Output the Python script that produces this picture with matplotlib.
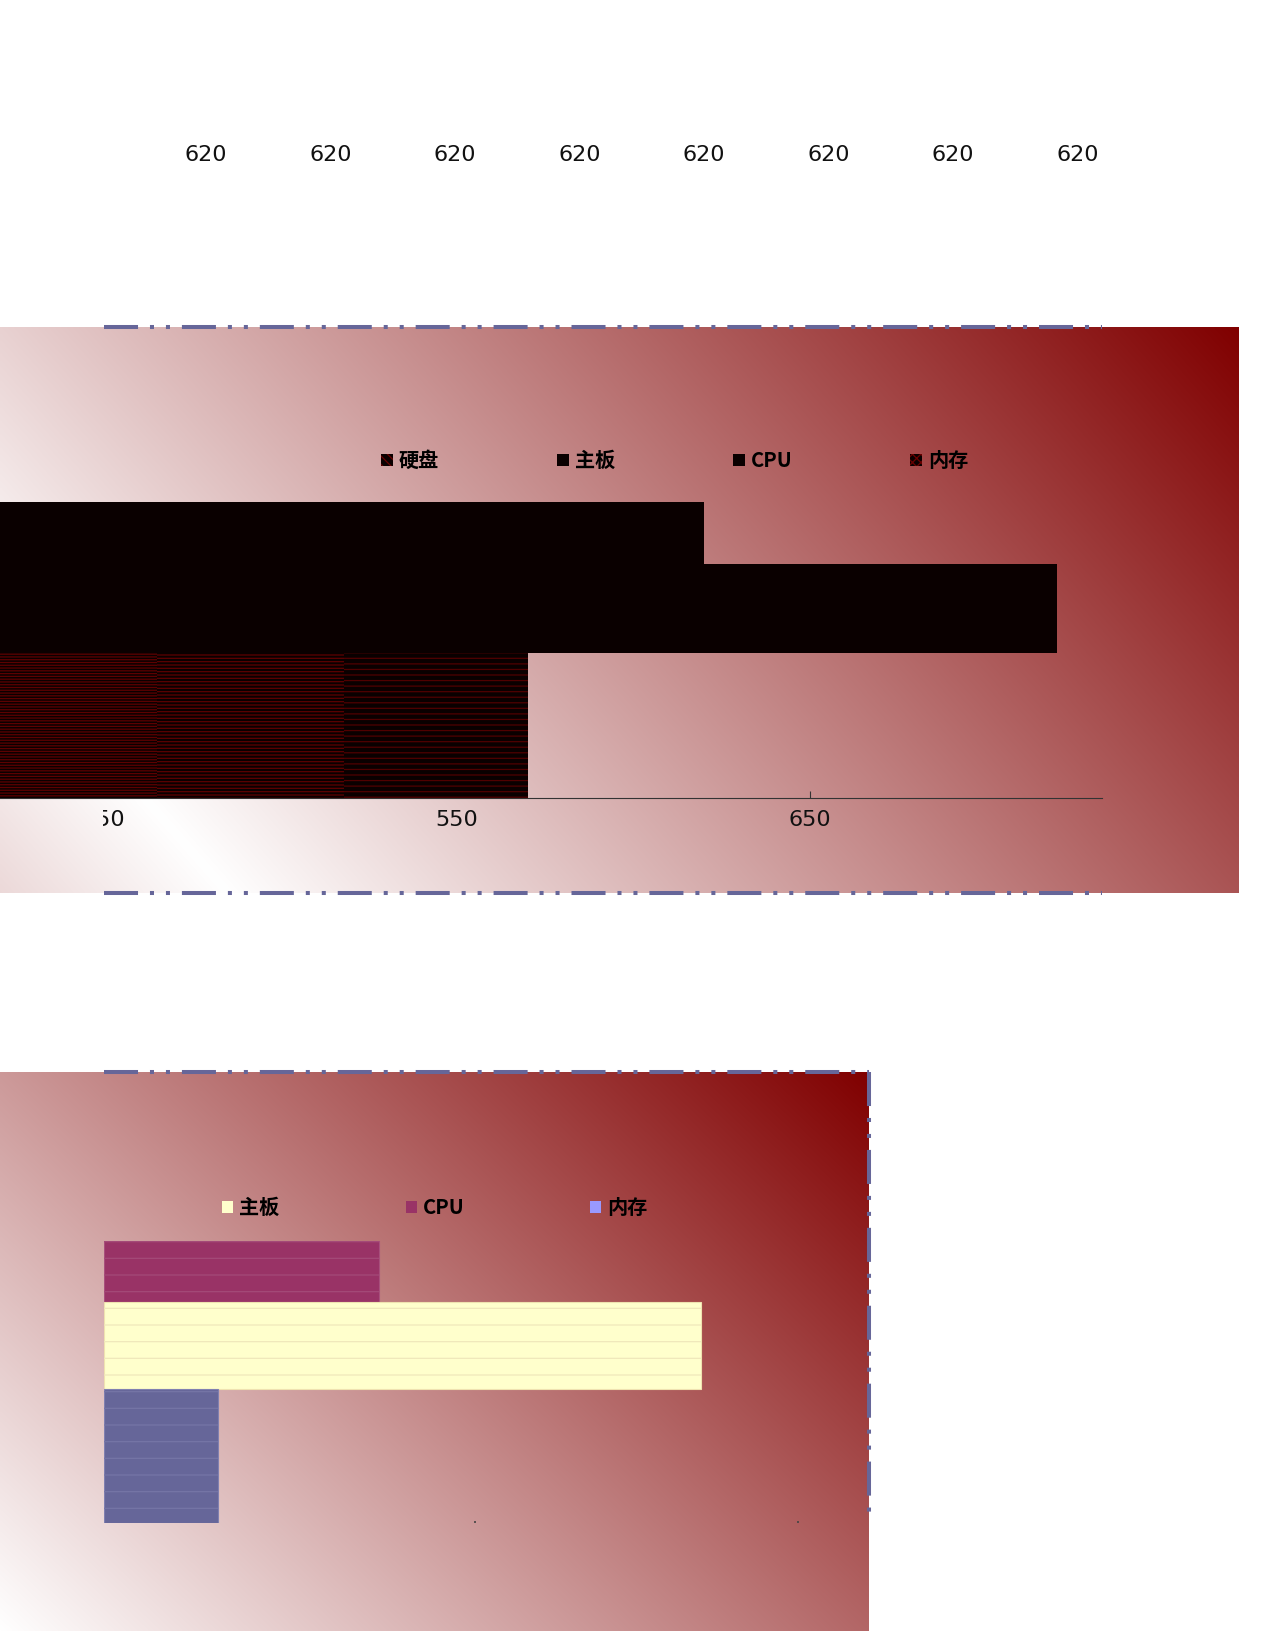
import numpy as np
import matplotlib
matplotlib.use("Agg")
import matplotlib.pyplot as plt
from matplotlib.patches import Rectangle
from matplotlib import transforms

plt.rcParams["font.family"] = ["DejaVu Sans"]
plt.rcParams["lines.scale_dashes"] = False
plt.rcParams["hatch.linewidth"] = 0.9

CJK = ["Noto Sans CJK SC", "DejaVu Sans"]

# --- data ---
top_labels = ["620", "620", "620", "620", "620", "620", "620", "620"]

p1_legend = ["硬盘", "主板", "CPU", "内存"]
p1_black_values = [620, 720]
p1_striped_values = [570, 518, 465]
p1_ticks = [450, 550, 650]

p2_legend = ["主板", "CPU", "内存"]
p2_legend_colors = ["#ffffcc", "#993366", "#9999ff"]
p2_bars = ["CPU", "主板", "内存"]
p2_values = [170, 370, 70.5]
p2_bar_colors = ["#993366", "#ffffcc", "#666699"]
p2_edge_colors = ["#a8507c", "#efe2b0", "#8080b0"]
p2_stripe_colors = ["#a44a78", "#f0e8bb", "#7575a6"]
p2_ticks = [230, 430]

W, H = 1275, 1650
BORDER = "#666699"
DARK = "#0a0000"

fig = plt.figure(figsize=(W / 100, H / 100), dpi=100)
bg = fig.add_axes([0, 0, 1, 1])
bg.axis("off")


def gradient(x0, x1, y0, y1, wx, wy, offset):
    xs = np.linspace(0, 1, 500)
    ys = np.linspace(1, 0, 300)
    X, Y = np.meshgrid(xs, ys)
    t = np.clip(np.abs(wx * X + wy * Y + offset), 0, 1)[..., None]
    dark = np.array([0x80, 0x00, 0x00]) / 255.0
    img = (1 - t) * 1.0 + t * dark
    bg.imshow(img, extent=(x0, x1, y1, y0), aspect="auto",
              interpolation="bilinear", zorder=0)


def dash_line(xs, ys):
    bg.plot(xs, ys, color=BORDER, lw=2.9, ls=(0, (24.5, 8.6, 2.9, 8.6, 2.9, 8.6)),
            dash_capstyle="butt", zorder=3)


# backgrounds
gradient(0, 1239, 327, 893, 0.82, 0.33, -0.15)
gradient(0, 869, 1072, 1631, 0.6, 0.4, 0.0)
bg.set_xlim(0, W)
bg.set_ylim(H, 0)

# dash-dot borders
dash_line([104, 1102], [327, 327])
dash_line([104, 1102], [893, 893])
dash_line([104, 869], [1072, 1072])
dash_line([869, 869], [1072, 1523])

# top row of labels
for i, lab in enumerate(top_labels):
    bg.text(206 + 124.5 * i, 155, lab, ha="center", va="center", fontsize=16, color="#111111")

# legend, panel 1
for i, name in enumerate(p1_legend):
    x = [381, 557, 733, 910][i]
    bg.add_patch(Rectangle((x, 454), 12, 12, facecolor=DARK, lw=0, zorder=4))
    if name in ("硬盘", "内存"):
        bg.add_patch(Rectangle((x, 454), 12, 12, facecolor="none", edgecolor="#6a0000",
                               hatch="\\\\\\\\" if name == "硬盘" else "xxxx", lw=0, zorder=4))
    bg.text(x + 18, 460.5, name, ha="left", va="center", fontsize=14.5,
            fontweight="bold", family=CJK, color="#000000")

# legend, panel 2
for i, name in enumerate(p2_legend):
    x = [222, 406, 590][i]
    bg.add_patch(Rectangle((x, 1201), 11, 12, facecolor=p2_legend_colors[i], lw=0, zorder=4))
    bg.text(x + 17, 1207.5, name, ha="left", va="center", fontsize=14.5,
            fontweight="bold", family=CJK, color="#000000")

# panel 1 bars
ax1 = fig.add_axes([0, 1 - 797.6 / H, 1102 / W, (797.6 - 501.5) / H])
ax1.set_xlim(420.5, 732.7)
ax1.set_ylim(797.6, 501.5)
ax1.patch.set_visible(False)
for s in ("top", "left", "right"):
    ax1.spines[s].set_visible(False)
ax1.spines["bottom"].set_color("#333333")
ax1.spines["bottom"].set_linewidth(0.8)
ax1.spines["bottom"].set_zorder(0.4)
ax1.set_yticks([])
ax1.set_xticks(p1_ticks)
ax1.tick_params(axis="x", direction="in", length=5, width=0.8, color="#333333", labelbottom=False)
ax1.set_axisbelow(True)

ax1.barh([577.25, 608.5], p1_black_values, height=[151.5, 89], color=DARK, lw=0)
stripe_cols = ["#500000", "#5e0000", "#5e0000"]
for v, hatch, sc in zip(p1_striped_values, ["---", "-----", "------"], stripe_cols):
    ax1.barh(725.3, v, height=144.6, color=DARK, lw=0)
    ax1.barh(725.3, v, height=144.6, facecolor="none", edgecolor=sc, hatch=hatch, lw=0)

blend = transforms.blended_transform_factory(ax1.transData, bg.transData)
clip = transforms.Bbox.from_extents(103, 0, W, H)
for v in p1_ticks:
    t = fig.text(v, 820, str(v), transform=blend, ha="center", va="center",
                 fontsize=16, color="#111111")
    t.set_clip_box(clip)
    t.set_clip_on(True)

# panel 2 bars
ax2 = fig.add_axes([104.3 / W, 1 - 1522.6 / H, (869 - 104.3) / W, (1522.6 - 1241) / H])
ax2.set_xlim(0, 474)
ax2.set_ylim(1522.6, 1241)
ax2.patch.set_visible(False)
for s in ax2.spines.values():
    s.set_visible(False)
ax2.set_yticks([])
ax2.set_xticks(p2_ticks)
ax2.tick_params(axis="x", direction="in", length=1.5, width=1.2, color="#444444", labelbottom=False)

centers = [1271.5, 1345.5, 1455.8]
heights = [61, 87, 133.6]
for i, name in enumerate(p2_bars):
    ax2.barh(centers[i], p2_values[i], height=heights[i], color=p2_bar_colors[i],
             edgecolor=p2_edge_colors[i], lw=0.8)
    ax2.barh(centers[i], p2_values[i], height=heights[i], facecolor="none",
             edgecolor=p2_stripe_colors[i], hatch="-", lw=0)

fig.savefig("out.png", dpi=100)
